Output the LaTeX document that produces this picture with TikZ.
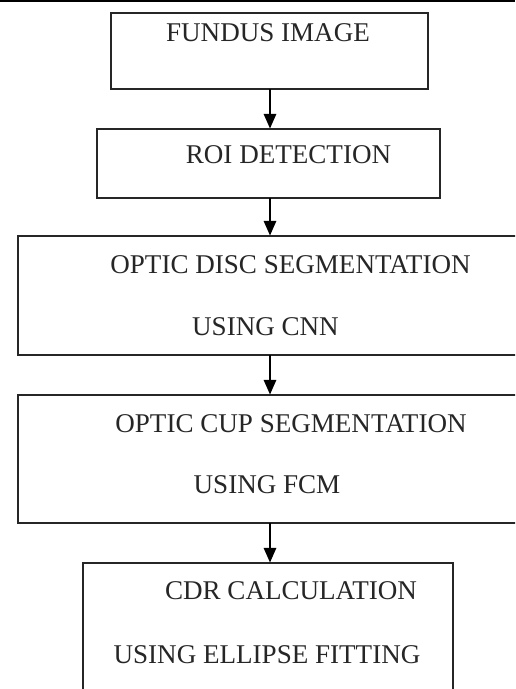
\documentclass[tikz,border=0pt]{standalone}
\usepackage{fontspec}
\setmainfont{Liberation Serif}
\usetikzlibrary{arrows.meta}
\tikzset{
  box/.style={draw=black!85, line width=1pt, inner sep=0pt, outer sep=0pt, fill=none},
  lbl/.style={anchor=base, inner sep=0pt, font=\fontsize{20.3}{24}\selectfont, text=black!85},
  arr/.style={draw=black, line width=0.9pt, -{Triangle[length=11pt,width=9.5pt]}, shorten >=0.4pt}
}
\begin{document}
\begin{tikzpicture}[x=0.75pt,y=-0.75pt]
\useasboundingbox (0,0) rectangle (515,689);
\clip (0,0) rectangle (515,689);
\fill[white] (0,0) rectangle (515,689);
\fill[black] (0,0) rectangle (515,2.2);
% boxes
\node[box, minimum width=237.75pt, minimum height=57pt] (b1) at (269.5,51) {};
\node[box, minimum width=257.25pt, minimum height=51.75pt] (b2) at (268.5,163.5) {};
\node[box, minimum width=406.5pt, minimum height=89.25pt] (b3) at (289,295.5) {};
\node[box, minimum width=406.5pt, minimum height=96pt] (b4) at (289,459) {};
\node[box, minimum width=277.5pt, minimum height=117.75pt] (b5) at (268,641.5) {};
% texts
\node[lbl] (t1) at (268,41.5) {FUNDUS IMAGE};
\node[lbl] (t2) at (288.5,163.5) {ROI DETECTION};
\node[lbl] (t3a) at (290.5,273) {OPTIC DISC SEGMENTATION};
\node[lbl] (t3b) at (265.5,335.5) {USING CNN};
\node[lbl] (t4a) at (291,432.5) {OPTIC CUP SEGMENTATION};
\node[lbl] (t4b) at (267,493) {USING FCM};
\node[lbl] (t5a) at (291,599.5) {CDR CALCULATION};
\node[lbl] (t5b) at (267,663.5) {USING ELLIPSE FITTING};
% connectors
\coordinate (ax) at (270,0);
\draw[arr] (b1.south -| ax) -- (b2.north -| ax);
\draw[arr] (b2.south -| ax) -- (b3.north -| ax);
\draw[arr] (b3.south -| ax) -- (b4.north -| ax);
\draw[arr] (b4.south -| ax) -- (b5.north -| ax);
\end{tikzpicture}
\end{document}
